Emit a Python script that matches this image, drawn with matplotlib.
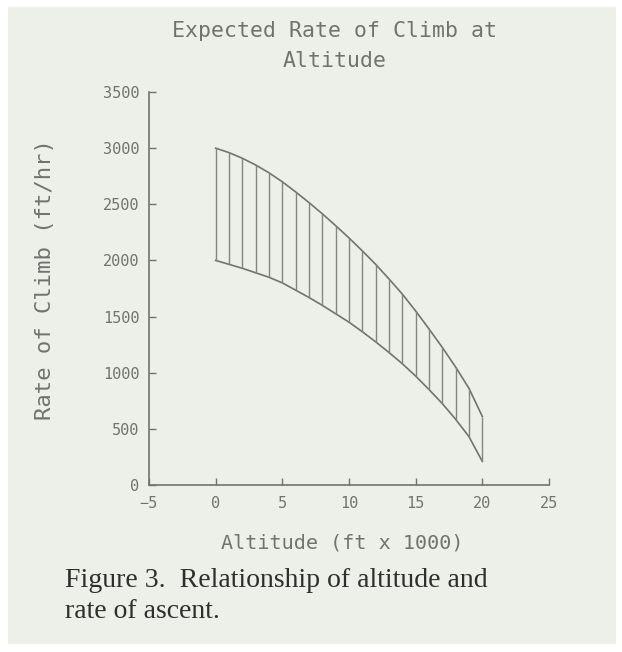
import matplotlib

matplotlib.use("Agg")

import matplotlib.pyplot as plt
from matplotlib.patches import Rectangle

# altitude (ft x 1000), one hatch line per step
altitude = list(range(0, 21))
# upper / lower bound of expected rate of climb (ft/hr)
climb_high = [3000, 2960, 2910, 2850, 2780, 2700, 2610, 2515, 2415, 2310, 2200,
              2085, 1965, 1835, 1700, 1550, 1390, 1225, 1050, 860, 610]
climb_low = [2000, 1965, 1930, 1890, 1850, 1800, 1735, 1670, 1600, 1525, 1450,
             1365, 1275, 1180, 1080, 970, 850, 725, 585, 430, 210]

x_ticks = [-5, 0, 5, 10, 15, 20, 25]
y_ticks = [0, 500, 1000, 1500, 2000, 2500, 3000, 3500]

title = "Expected Rate of Climb at\nAltitude"
caption = "Figure 3.  Relationship of altitude and\nrate of ascent."

W, H = 622, 652
ink = "#72736f"
plot_font = "DejaVu Sans Mono"   # wide, plotter-like lettering

fig = plt.figure(figsize=(W / 100, H / 100), dpi=100)
fig.patch.set_facecolor("white")
# scanned paper tone
fig.add_artist(Rectangle((8 / W, 1 - 644 / H), 608 / W, 637 / H,
                         transform=fig.transFigure, facecolor="#edefe9",
                         edgecolor="none", zorder=-10))

ax = fig.add_axes([149 / W, 1 - 485 / H, 400 / W, 393 / H])
ax.set_facecolor("none")

ax.plot(altitude, climb_high, color=ink, linewidth=1.2)
ax.plot(altitude, climb_low, color=ink, linewidth=1.2)
ax.vlines(altitude, climb_low, climb_high, color="#858682", linewidth=1.0)

ax.set_xlim(-5, 25)
ax.set_ylim(0, 3500)
ax.set_xticks(x_ticks)
ax.set_yticks(y_ticks)
ax.tick_params(axis="both", direction="in", length=5, width=1.0, color=ink,
               labelcolor=ink, labelsize=11)
ax.tick_params(axis="x", pad=8)
ax.tick_params(axis="y", pad=7)
for lbl in ax.get_xticklabels() + ax.get_yticklabels():
    lbl.set_family(plot_font)
for side in ("top", "right"):
    ax.spines[side].set_visible(False)
for side in ("left", "bottom"):
    ax.spines[side].set_color(ink)
    ax.spines[side].set_linewidth(1.2)

ax.set_xlabel("Altitude (ft x 1000)", fontsize=14.5, color=ink, family=plot_font)
ax.xaxis.set_label_coords((342 - 149) / 400, (485 - 543) / 393)
ax.xaxis.label.set_va("center")
ax.set_ylabel("Rate of Climb (ft/hr)", fontsize=16, color=ink, family=plot_font)
ax.yaxis.set_label_coords((45 - 149) / 400, (485 - 280) / 393)
ax.yaxis.label.set_va("center")

fig.text(335 / W, 1 - 21 / H, title, ha="center", va="top", fontsize=15.5,
         color=ink, family=plot_font, linespacing=1.6)
fig.text(65 / W, 1 - 568 / H, caption, ha="left", va="top", fontsize=20,
         family="Liberation Serif", color="#2e2f2c", linespacing=1.3)

fig.savefig("out.png", dpi=100)
